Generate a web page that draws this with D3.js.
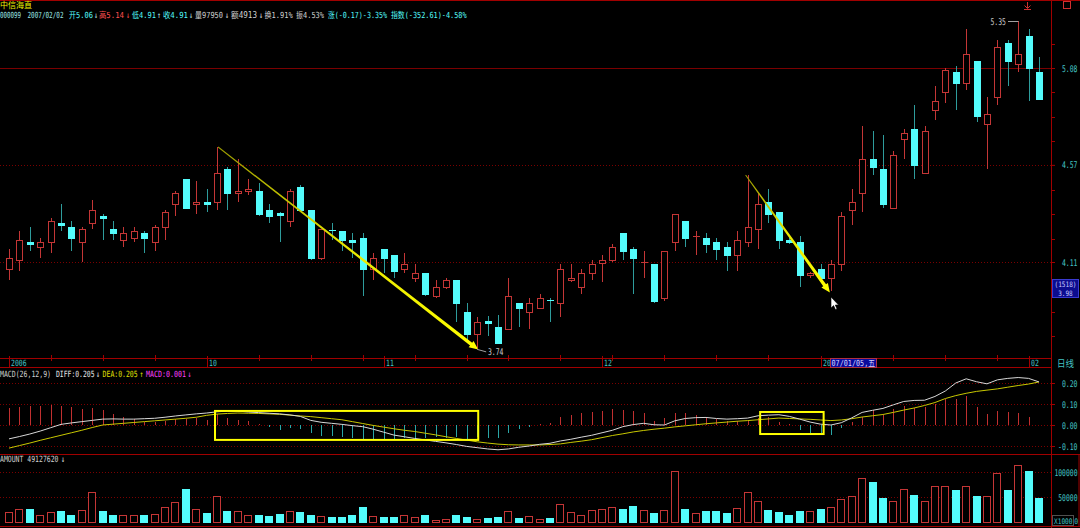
<!DOCTYPE html>
<html><head><meta charset="utf-8">
<script src="https://cdn.jsdelivr.net/npm/d3@7"></script>
<style>html,body{margin:0;padding:0;background:#000;overflow:hidden}</style>
</head><body><svg id="c" width="1080" height="528"></svg>
<script>
// ---------------- data ----------------
const openP = [4.08,4.12,4.20,4.18,4.20,4.29,4.27,4.20,4.29,4.32, 4.26,4.21,4.22,4.24,4.20,4.27,4.38,4.50,4.38,4.39,
 4.39,4.55,4.43,4.44,4.44,4.35,4.335,4.30,4.46,4.35, 4.13,4.255,4.25,4.21,4.22,4.08,4.17,4.14,4.08,4.04,
 4.06,3.96,4.00,4.03,3.89,3.80,3.855,3.83,3.82,3.93, 3.89,3.91,3.945,3.93,4.03,4.00,4.06,4.105,4.12,4.24,
 4.17,4.108,4.10,3.95,4.20,4.30,4.224,4.22,4.20,4.18, 4.14,4.20,4.26,4.39,4.34,4.208,4.20,4.05,4.08,4.04,
 4.10,4.35,4.43,4.60,4.55,4.36,4.70,4.75,4.53,4.85, 4.95,5.06,5.00,5.12,4.78,4.92,5.22,5.10,5.26,5.06];
const highP = [4.17,4.25,4.27,4.22,4.31,4.38,4.30,4.27,4.40,4.33, 4.30,4.27,4.27,4.25,4.28,4.35,4.44,4.50,4.49,4.45,
 4.66,4.56,4.60,4.50,4.48,4.38,4.34,4.45,4.47,4.35, 4.26,4.29,4.25,4.24,4.24,4.15,4.17,4.14,4.15,4.10,
 4.06,4.03,4.04,4.03,3.93,3.87,3.875,3.88,4.04,3.93, 3.95,3.97,3.95,4.10,4.10,4.08,4.12,4.14,4.19,4.24,
 4.18,4.16,4.10,4.16,4.33,4.30,4.25,4.24,4.22,4.20, 4.25,4.52,4.43,4.45,4.34,4.22,4.23,4.065,4.10,4.12,
 4.34,4.45,4.77,4.74,4.72,4.64,4.75,4.88,4.77,4.98, 5.08,5.09,5.30,5.12,4.92,5.24,5.24,5.35,5.30,5.14];
const lowP = [4.03,4.07,4.16,4.13,4.15,4.25,4.16,4.11,4.26,4.21, 4.21,4.18,4.20,4.15,4.16,4.21,4.32,4.36,4.33,4.34,
 4.35,4.35,4.39,4.42,4.32,4.29,4.20,4.27,4.35,4.12, 4.12,4.21,4.16,4.13,3.96,4.03,4.06,4.04,4.06,4.02,
 3.96,3.95,3.99,3.85,3.77,3.74,3.79,3.76,3.82,3.83, 3.82,3.91,3.85,3.87,4.02,3.97,4.03,4.02,4.11,4.12,
 3.97,4.04,3.93,3.94,4.16,4.18,4.14,4.15,4.12,4.07, 4.07,4.18,4.17,4.29,4.17,4.19,4.00,4.04,4.04,3.98,
 4.07,4.28,4.34,4.52,4.36,4.36,4.60,4.50,4.53,4.80, 4.89,4.85,4.96,4.79,4.55,4.88,4.98,5.06,4.90,4.91];
const closeP = [4.13,4.21,4.19,4.20,4.30,4.28,4.22,4.26,4.35,4.31, 4.24,4.24,4.25,4.22,4.27,4.34,4.43,4.36,4.39,4.38,
 4.53,4.43,4.44,4.45,4.33,4.32,4.325,4.44,4.35,4.13, 4.26,4.25,4.21,4.20,4.08,4.13,4.13,4.07,4.10,4.06,
 3.97,4.00,4.03,3.93,3.80,3.85,3.845,3.76,3.96,3.91, 3.93,3.95,3.94,4.08,4.04,4.06,4.10,4.12,4.18,4.16,
 4.13,4.112,3.94,4.16,4.33,4.22,4.228,4.19,4.17,4.14, 4.21,4.27,4.38,4.33,4.21,4.203,4.05,4.06,4.04,4.10,
 4.32,4.39,4.60,4.56,4.38,4.62,4.73,4.57,4.74,4.90, 5.07,5.00,5.16,4.82,4.83,5.20,5.12,5.16,5.08,4.91];
const amount = [19400,27000,27000,14600,19400,21400,14600,24800,60600,22000, 14600,13200,14600,13200,16600,29600,40000,66800,27000,18800,
 52400,22000,22000,13200,15000,11800,16600,22000,20000,14600, 11800,11000,9800,14600,29600,11800,11000,9800,13200,9800,
 13200,4800,6200,13200,9800,6200,7600,9800,21400,8200, 11800,6200,8400,36000,19400,13200,23400,27000,29600,27000,
 31800,24800,18800,23400,101400,25600,17400,21400,21400,18800, 27600,60000,42800,24800,19400,14600,22000,22800,27000,29600,
 46200,52400,89000,80600,49000,42000,66800,54400,42000,73000, 72000,64800,73000,52400,52400,97200,64800,115000,101400,49000];
const diffV = [-0.066,-0.055,-0.043,-0.029,-0.013,0.003,0.010,0.016,0.022,0.028,
 0.029,0.028,0.028,0.030,0.032,0.037,0.043,0.048,0.053,0.057, 0.063,0.066,0.066,0.062,0.059,0.056,0.053,0.048,0.041,0.022,
 0.013,0.008,0.003,-0.003,-0.008,-0.020,-0.034,-0.048,-0.056,-0.064, -0.071,-0.078,-0.085,-0.093,-0.102,-0.108,-0.114,-0.118,-0.114,-0.106,
 -0.100,-0.092,-0.087,-0.076,-0.068,-0.058,-0.049,-0.037,-0.025,-0.008, 0.002,0.008,0.001,0.000,0.020,0.031,0.035,0.036,0.031,0.028,
 0.030,0.033,0.044,0.047,0.049,0.041,0.028,0.014,0.004,0.000, 0.011,0.034,0.060,0.070,0.079,0.096,0.112,0.117,0.118,0.136,
 0.162,0.200,0.220,0.206,0.196,0.215,0.222,0.226,0.222,0.205];
const deaV = [-0.110,-0.098,-0.086,-0.073,-0.061,-0.049,-0.037,-0.025,-0.012,0.000,
 0.004,0.008,0.012,0.016,0.020,0.024,0.028,0.032,0.037,0.046, 0.052,0.055,0.057,0.056,0.055,0.053,0.051,0.047,0.043,0.040,
 0.035,0.030,0.025,0.016,0.007,-0.002,-0.010,-0.018,-0.025,-0.031, -0.039,-0.047,-0.056,-0.064,-0.072,-0.080,-0.086,-0.091,-0.094,-0.095,
 -0.095,-0.095,-0.093,-0.090,-0.083,-0.077,-0.070,-0.060,-0.050,-0.042, -0.033,-0.026,-0.020,-0.015,-0.009,-0.004,0.001,0.006,0.010,0.014,
 0.018,0.021,0.025,0.029,0.033,0.031,0.029,0.027,0.024,0.021, 0.024,0.030,0.038,0.044,0.050,0.060,0.071,0.081,0.093,0.107,
 0.126,0.140,0.151,0.160,0.166,0.172,0.180,0.188,0.195,0.205];
const macdV = [0.079,0.087,0.092,0.092,0.095,0.092,0.085,0.077,0.079,0.070,
 0.054,0.036,0.028,0.016,0.016,0.020,0.030,0.030,0.033,0.025, 0.052,0.033,0.025,0.020,0.003,-0.008,-0.025,-0.013,-0.020,-0.038,
 -0.052,-0.054,-0.059,-0.062,-0.070,-0.066,-0.066,-0.066,-0.062,-0.066, -0.062,-0.057,-0.061,-0.059,-0.066,-0.055,-0.062,-0.062,-0.036,-0.020,
 -0.008,0.005,0.011,0.036,0.046,0.056,0.061,0.066,0.074,0.072, 0.066,0.056,0.021,0.033,0.056,0.056,0.049,0.036,0.030,0.020,
 0.021,0.025,0.033,0.036,0.016,0.003,-0.025,-0.038,-0.041,-0.046, -0.013,0.016,0.036,0.072,0.049,0.074,0.090,0.079,0.085,0.102,
 0.123,0.126,0.136,0.087,0.052,0.066,0.062,0.057,0.036,0.001];
const priceTicks = [5.08, 4.57, 4.11];
const macdTicks = [0.20, 0.10, 0.00, -0.10];
const volTicks = [100000, 50000, 0];
const dateTickIdx = [0, 19, 36, 57, 98];
const dateTickLbl = ["2006", "10", "11", "12", "02"];
const weekTickIdx = [4,9,14,24,29,34,39,44,48,53,58,63,68,73,85,90,95];
const trendFrom = [[20.1, 4.66], [70.8, 4.52]];
const trendTo = [[45.1, 3.735], [78.9, 3.975]];
const boxIdx = [[19.8, 45.1], [72.2, 78.3]];
const boxVal = [[0.067, -0.071], [0.062, -0.043]];
const hiLabel = [97, 5.35], loLabel = [45, 3.74];

// ---------------- drawing ----------------
const W = 1080, H = 528, N = openP.length, AXX = 1051;
const svg = d3.select('#c');
svg.append('rect').attr('width', W).attr('height', H).attr('fill', '#000');
const x = d3.scaleLinear().domain([0, 99]).range([9, 1039]);
const yP = d3.scaleLog().domain([4.11, 5.08]).range([262, 68]);
const yM = d3.scaleLinear().domain([-0.1, 0.2]).range([446, 383]);
const yV = d3.scaleLinear().domain([0, 100000]).range([522, 472]);
const RED = '#c43636', CY = '#54fcfc', CYW = '#2e9c9c', GRID = '#7a0000', FRAME = '#a00000', AX = '#44c4c4';
const FONT = "'DejaVu Sans Mono','Noto Sans CJK SC',monospace";
const px = i => Math.round(x(i)) + 0.5;
const isCJK = ch => ch.charCodeAt(0) > 0x2e00;
const cw = s => Array.from(s).reduce((a, ch) => a + (isCJK(ch) ? 7.8 : 3.9), 0);
// bitmap-like narrow text: natural width equals target width, stretched vertically
function txt(g, s, X, Y, color, w, anchor, h) {
  w = w || cw(s); h = h || 9.2;
  const em = Array.from(s).reduce((a, ch) => a + (isCJK(ch) ? 1 : 0.602), 0);
  const fs = Math.min(9, w / em), sy = h / fs;
  const x0 = anchor === 'end' ? X - w : anchor === 'middle' ? X - w / 2 : X;
  return g.append('text').attr('transform', `translate(${x0},${Y}) scale(1,${sy.toFixed(3)})`)
    .attr('x', 0).attr('y', 0).attr('fill', color).attr('font-family', FONT).attr('font-size', fs.toFixed(2))
    .attr('textLength', w).attr('lengthAdjust', 'spacingAndGlyphs').text(s);
}
const hline = (y, x1, x2, c, dash) => { const l = svg.append('line').attr('x1', x1).attr('x2', x2).attr('y1', y).attr('y2', y).attr('stroke', c); if (dash) l.attr('stroke-dasharray', dash); return l; };
function rightAxis(scale, vals, size) {
  const g = svg.append('g').attr('transform', `translate(${AXX},0)`)
    .call(d3.axisRight(scale).tickValues(vals).tickSize(size).tickFormat(''));
  g.select('.domain').remove();
  g.selectAll('line').attr('stroke', FRAME);
  g.selectAll('text').remove();
  return g;
}

// frame
hline(0.5, 0, W, FRAME);
svg.append('line').attr('x1', AXX + 0.5).attr('x2', AXX + 0.5).attr('y1', 0).attr('y2', H).attr('stroke', FRAME);

// header
txt(svg, '中信海直', 0, 8, '#f0f000', 32, null, 8.4);
const hdr = [['000099', '#9ee6e6', 0, 21], ['2007/02/02', '#9ee6e6', 27.5, 36], ['开5.06', CY, 69, 24], ['↓', '#bfeaea', 94, 4],
 ['高5.14', '#ff5050', 99, 25], ['↓', '#ff5050', 126, 4], ['低4.91', CY, 132, 24], ['↑', '#bfeaea', 157, 4], ['收4.91', CY, 163, 25], ['↓', '#bfeaea', 189, 4],
 ['量97950', '#d0d0d0', 195, 28], ['↓', '#e0e0e0', 225, 4], ['额4913', '#d0d0d0', 231, 26], ['↓', '#e0e0e0', 259, 4],
 ['换1.91%', '#d0d0d0', 264.5, 28.2], ['振4.53%', '#d0d0d0', 296, 28], ['涨(-0.17)-3.35%', CY, 328, 59], ['指数(-352.61)-4.58%', CY, 391, 75.6]];
hdr.forEach(h => txt(svg, h[0], h[2], 18, h[1], h[3], null, 8.4));
// top-right icons
svg.append('path').attr('d', 'M1027.5,2 v6 M1024.5,5.5 l3,3 l3,-3 M1024,9.5 h7').attr('stroke', '#d03030').attr('fill', 'none');
svg.append('rect').attr('x', 1063.5).attr('y', 1.5).attr('width', 7).attr('height', 7).attr('fill', 'none').attr('stroke', '#d03030');

// price grid & axis
priceTicks.forEach((p, k) => hline(Math.round(yP(p)) + 0.5, 0, AXX, GRID, k === 0 ? null : '1,2'));
const minorY = d3.range(43.6, 345, 24.4).filter(v => Math.abs((v - 68) % 97.6) > 2 && Math.abs((v - 68) % 97.6) < 95);
svg.append('g').selectAll('line').data(minorY).join('line')
  .attr('x1', AXX).attr('x2', AXX + 4).attr('y1', d => Math.round(d) + 0.5).attr('y2', d => Math.round(d) + 0.5).attr('stroke', FRAME);
rightAxis(yP, priceTicks, 4);
priceTicks.forEach(p => txt(svg, p.toFixed(2), 1077.5, yP(p) + 3.5, AX, 15.5, 'end'));

// candles
const gC = svg.append('g').attr('shape-rendering', 'crispEdges');
d3.range(N).forEach(i => {
  const up = closeP[i] >= openP[i], cx = px(i);
  gC.append('line').attr('x1', cx).attr('x2', cx).attr('y1', yP(highP[i])).attr('y2', yP(lowP[i])).attr('stroke', up ? RED : CYW);
  const t = Math.round(yP(Math.max(openP[i], closeP[i]))) + 0.5;
  const b = Math.round(yP(Math.min(openP[i], closeP[i]))) + 0.5;
  if (b - t < 1.5) {
    gC.append('line').attr('x1', cx - 3.5).attr('x2', cx + 3.5).attr('y1', t).attr('y2', t).attr('stroke', up ? RED : CY);
  } else {
    gC.append('rect').attr('x', cx - 3).attr('y', t).attr('width', 6).attr('height', b - t)
      .attr('fill', up ? '#000' : CY).attr('stroke', up ? RED : CY);
  }
});

// trend arrows
const defs = svg.append('defs');
trendFrom.forEach((f, k) => {
  const x1 = x(f[0]), y1 = yP(f[1]), x2 = x(trendTo[k][0]), y2 = yP(trendTo[k][1]);
  const L = Math.hypot(x2 - x1, y2 - y1), ux = (x2 - x1) / L, uy = (y2 - y1) / L, nx = -uy, ny = ux;
  const gid = 'ag' + k;
  const lg = defs.append('linearGradient').attr('id', gid).attr('gradientUnits', 'userSpaceOnUse')
    .attr('x1', x1).attr('y1', y1).attr('x2', x2).attr('y2', y2);
  lg.append('stop').attr('offset', 0).attr('stop-color', '#9a9a00');
  lg.append('stop').attr('offset', 0.5).attr('stop-color', '#e8e800');
  lg.append('stop').attr('offset', 1).attr('stop-color', '#ffff00');
  const bx = x2 - ux * 9, by = y2 - uy * 9;
  const pts = [[x1 + nx * 0.5, y1 + ny * 0.5], [bx + nx * 1.7, by + ny * 1.7], [bx + nx * 4, by + ny * 4], [x2, y2],
    [bx - nx * 4, by - ny * 4], [bx - nx * 1.7, by - ny * 1.7], [x1 - nx * 0.5, y1 - ny * 0.5]];
  svg.append('path').attr('d', 'M' + pts.map(p => p.join(',')).join('L') + 'Z').attr('fill', `url(#${gid})`);
});

// hi/lo labels
{
  const hx = px(hiLabel[0]), hy = Math.round(yP(hiLabel[1])) + 0.5;
  svg.append('line').attr('x1', 1008).attr('x2', hx).attr('y1', hy).attr('y2', hy).attr('stroke', '#a0a0a0');
  txt(svg, hiLabel[1].toFixed(2), 1006, hy + 3.5, '#c8c8c8', 15.5, 'end');
  const lx = x(loLabel[0]), ly = yP(loLabel[1]);
  svg.append('line').attr('x1', lx).attr('x2', lx + 9).attr('y1', ly + 1).attr('y2', ly + 3.5).attr('stroke', '#a0a0a0');
  txt(svg, loLabel[1].toFixed(2), 488, ly + 7, '#c8c8c8', 15.5);
}
// mouse cursor
svg.append('path').attr('d', 'M831,297 L831,308 L833.6,305.6 L835.4,309.6 L837,308.9 L835.3,305 L838.6,305 Z')
  .attr('fill', '#fff').attr('stroke', '#000').attr('stroke-width', 0.6);
// price box
svg.append('rect').attr('x', 1052.5).attr('y', 279.5).attr('width', 26).attr('height', 18).attr('fill', '#0c0c8e').attr('stroke', '#3a3ad0');
txt(svg, '(1518)', 1065.5, 286.6, '#c8c8ff', 22, 'middle', 7.4);
txt(svg, '3.98', 1065.5, 295.6, '#c8c8ff', 14.5, 'middle', 7.4);

// date axis strip
hline(358.5, 0, AXX, FRAME); hline(367.5, 0, AXX, FRAME);
svg.append('g').selectAll('line').data(weekTickIdx).join('line')
  .attr('x1', d => px(d)).attr('x2', d => px(d)).attr('y1', 355).attr('y2', 361).attr('stroke', FRAME);
dateTickIdx.forEach((d, k) => {
  svg.append('line').attr('x1', px(d)).attr('x2', px(d)).attr('y1', 356).attr('y2', 368).attr('stroke', FRAME);
  txt(svg, dateTickLbl[k], px(d) + 1.5, 366, AX, null, null, 8.6);
});
txt(svg, '20', px(78) + 1.5, 366, AX, null, null, 8.6);
svg.append('line').attr('x1', px(78)).attr('x2', px(78)).attr('y1', 356).attr('y2', 368).attr('stroke', FRAME);
svg.append('rect').attr('x', 830.5).attr('y', 358.5).attr('width', 46).attr('height', 9).attr('fill', '#0a0a9c').attr('stroke', '#b03040');
txt(svg, '07/01/05,五', 831.5, 366, '#d8d8ff', 43.5, null, 8.4);
txt(svg, '日线', 1057, 366.5, AX, 17, null, 9);

// MACD panel
txt(svg, 'MACD(26,12,9)', 0, 377, '#d0d0d0', 51, null, 8.6);
txt(svg, 'DIFF:0.205', 56, 377, '#e8e8e8', 38.5, null, 8.6); txt(svg, '↓', 96, 377, '#e8e8e8', 4, null, 8.6);
txt(svg, 'DEA:0.205', 102.6, 377, '#e0e000', 35, null, 8.6); txt(svg, '↑', 139.5, 377, '#e0e000', 4, null, 8.6);
txt(svg, 'MACD:0.001', 146, 377, '#ff40ff', 40, null, 8.6); txt(svg, '↓', 187.5, 377, '#ff40ff', 4, null, 8.6);
macdTicks.forEach(v => hline(Math.round(yM(v)) + 0.5, 0, AXX, GRID, '1,2'));
rightAxis(yM, macdTicks, 4);
macdTicks.forEach(v => txt(svg, v.toFixed(2), 1077.5, yM(v) + 3.5, AX, null, 'end'));
svg.append('g').attr('shape-rendering', 'crispEdges').selectAll('line').data(macdV).join('line')
  .attr('x1', (d, i) => px(i)).attr('x2', (d, i) => px(i)).attr('y1', yM(0)).attr('y2', d => yM(d))
  .attr('stroke', d => d >= 0 ? '#c03030' : '#2aa6a6');
const ln = d3.line().x((d, i) => x(i)).y(d => yM(d));
svg.append('path').attr('d', ln(deaV)).attr('fill', 'none').attr('stroke', '#c8c800').attr('stroke-width', 1);
svg.append('path').attr('d', ln(diffV)).attr('fill', 'none').attr('stroke', '#d8d8d8').attr('stroke-width', 1);
boxIdx.forEach((b, k) => {
  const x0 = x(b[0]), x1 = x(b[1]), y0 = yM(boxVal[k][0]), y1 = yM(boxVal[k][1]);
  svg.append('rect').attr('x', x0).attr('y', y0).attr('width', x1 - x0).attr('height', y1 - y0)
    .attr('fill', 'none').attr('stroke', '#ffff00').attr('stroke-width', 2);
});

// Amount panel
hline(454.5, 0, W, FRAME);
txt(svg, 'AMOUNT 49127620', 0, 462, '#d0d0d0', 58.5, null, 8.6); txt(svg, '↓', 61, 462, '#e0e0e0', 4, null, 8.6);
volTicks.filter(v => v > 0).forEach(v => hline(Math.round(yV(v)) + 0.5, 0, AXX, GRID, '1,2'));
rightAxis(yV, volTicks, 0);
const gV = svg.append('g').attr('shape-rendering', 'crispEdges');
d3.range(N).forEach(i => {
  const up = closeP[i] >= openP[i], t = Math.round(yV(amount[i])) + 0.5;
  gV.append('rect').attr('x', px(i) - 4).attr('y', t).attr('width', 7).attr('height', 522.5 - t)
    .attr('fill', up ? '#000' : CY).attr('stroke', up ? RED : CY);
});
volTicks.filter(v => v > 0).forEach(v => txt(svg, String(v), 1077.5, yV(v) + 3.5, AX, String(v).length * 3.85, 'end'));
svg.append('rect').attr('x', 1052.5).attr('y', 515.5).attr('width', 21).attr('height', 10).attr('fill', '#000').attr('stroke', '#505050');
txt(svg, 'X1000', 1054, 524, AX, 18.5, null, 7.6);
txt(svg, '0', 1078, 524, AX, 3.85, 'end', 7.6);
svg.append('rect').attr('x', AXX + 0.5).attr('y', 454.5).attr('width', W - AXX - 1.5).attr('height', 72).attr('fill', 'none').attr('stroke', FRAME);
hline(526.5, 0, W, FRAME);
</script></body></html>
